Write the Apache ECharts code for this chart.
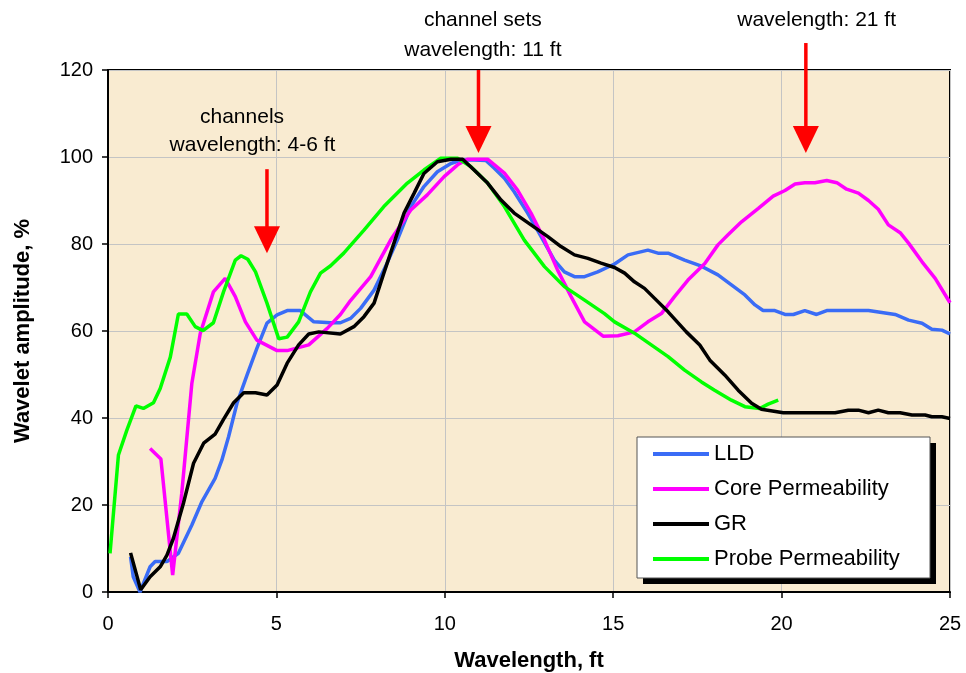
<!DOCTYPE html>
<html><head><meta charset="utf-8">
<script src="https://cdn.jsdelivr.net/npm/echarts@6/dist/echarts.min.js"></script>
<style>html,body{margin:0;padding:0;background:#fff}#c{width:966px;height:673px}</style>
</head><body><div id="c"></div>
<script>
// ---- data ----
const lldX = [0.67,0.75,0.95,1.25,1.4,1.75,2.09,2.49,2.79,3.18,3.38,3.58,3.83,4.13,4.42,4.72,5.02,5.32,5.71,6.11,6.61,6.9,7.2,7.5,7.9,8.24,8.59,8.99,9.38,9.78,10.18,10.48,10.87,11.22,11.47,11.77,12.06,12.46,12.86,13.25,13.55,13.85,14.15,14.54,15.04,15.44,16.03,16.33,16.63,17.12,17.62,18.11,18.51,18.91,19.21,19.45,19.8,20.1,20.35,20.69,21.04,21.34,22.58,23.37,23.77,24.17,24.46,24.76,25];
const lldY = [8.1,3.5,0,5.8,7,7,8.9,15.4,20.8,26.1,30.3,35.7,43.4,49.9,56,61.8,63.7,64.7,64.7,62.1,61.9,61.9,62.9,65.2,69.4,74.8,80.9,88.6,93.2,96.6,98.5,99.3,99.3,99.2,97.4,95.1,92,87.1,81.7,76.3,73.6,72.5,72.5,73.6,75.4,77.5,78.6,77.9,77.9,76.3,74.9,72.9,70.6,68.3,66,64.7,64.7,63.8,63.8,64.7,63.8,64.7,64.7,63.8,62.5,61.8,60.4,60.2,59.3];

const coreX = [1.25,1.57,1.92,2.19,2.49,2.74,3.13,3.48,3.78,4.08,4.42,5.02,5.32,5.96,6.51,6.9,7.2,7.8,8.39,8.99,9.48,9.98,10.38,10.67,11.27,11.77,12.16,12.56,12.96,13.35,13.75,14.15,14.7,15.14,15.63,16.03,16.43,16.82,17.22,17.72,18.11,18.41,18.81,19.31,19.75,20.1,20.4,20.69,20.99,21.34,21.64,21.93,22.28,22.58,22.87,23.17,23.52,23.77,24.17,24.56,25];
const coreY = [33,30.6,3.9,22.7,48,59.5,69,72.1,67.9,62.1,57.9,55.5,55.5,56.8,60.6,63.8,67,72.5,80.9,87.8,91.3,95.5,98.2,99.5,99.5,96.3,92.4,87.1,80.9,74,67.9,62.1,58.8,58.9,59.8,62.1,64,67.9,71.7,75.5,79.8,82.1,85.1,88.2,91,92.3,93.8,94.1,94.1,94.6,94.1,92.6,91.7,90,88,84.4,82.6,80.2,75.9,72.1,66.5];

const grX = [0.67,0.97,1.25,1.55,1.75,1.94,2.24,2.54,2.84,3.18,3.43,3.73,4.03,4.38,4.72,5.02,5.32,5.66,5.96,6.26,6.9,7.3,7.6,7.9,8.19,8.49,8.79,9.09,9.38,9.78,10.18,10.53,10.87,11.27,11.67,12.06,12.56,13.06,13.45,13.85,14.25,14.64,15.04,15.34,15.63,15.93,16.23,16.63,17.17,17.57,17.87,18.31,18.71,19.11,19.4,20.05,21.59,21.98,22.28,22.58,22.87,23.17,23.52,23.87,24.26,24.46,24.76,25];
const grY = [9,0.5,3.5,5.8,8.5,12.3,20.4,29.6,34.2,36.3,39.7,43.5,45.8,45.8,45.3,47.6,52.6,56.8,59.3,59.8,59.3,61,63.3,66.4,73.3,80.2,87.1,91.7,96.2,98.9,99.5,99.5,97,94,90.1,87.1,84.4,81.7,79.4,77.5,76.7,75.6,74.6,73.3,71.3,69.8,67.5,64.4,59.8,56.8,53.3,49.9,46.4,43.4,42,41.2,41.2,41.8,41.8,41.2,41.8,41.2,41.2,40.7,40.7,40.3,40.3,39.9];

const probeX = [0.06,0.31,0.56,0.83,1.05,1.35,1.55,1.85,2.09,2.34,2.59,2.82,3.13,3.43,3.78,3.95,4.15,4.38,4.72,5.07,5.32,5.66,6.01,6.31,6.61,7.0,7.6,8.19,8.89,9.38,9.88,10.38,10.77,11.27,11.77,12.36,12.96,13.55,14.15,14.74,15.04,15.63,16.13,16.63,17.12,17.62,18.01,18.51,18.91,19.35,19.6,19.9];
const probeY = [8.9,31.5,37.2,42.8,42.2,43.5,46.8,54,63.9,63.9,61,60.1,61.9,69,76.3,77.3,76.5,73.6,66.4,58.2,58.6,62.1,69,73.3,75,77.9,83.2,88.6,94,97,99.7,99.7,97.8,94,88.6,80.9,74.8,70.2,67.1,64,62.1,59.5,56.8,54.1,51,48.3,46.4,44.1,42.6,42.2,43.2,44.1];

const seriesNames = ['LLD', 'Core Permeability', 'GR', 'Probe Permeability'];
const seriesColors = ['#3a6cf6', '#ff00ff', '#000000', '#00ff00'];

// annotations (data coordinates)
const arrowX   = [4.72, 11, 20.72];
const arrowTop = [97.2, 120, 126.2];
const arrowTip = [77.9, 100.9, 100.9];
const noteText = ['channels', 'wavelength: 4-6 ft', 'channel sets', 'wavelength: 11 ft', 'wavelength: 21 ft'];
const noteX    = [3.98, 4.29, 11.13, 11.13, 21.04];
const noteY    = [109.2, 102.8, 131.5, 124.6, 131.5];

// ---- chart ----
const FONT = '"Liberation Sans", Arial, sans-serif';
const chart = echarts.init(document.getElementById('c'), null, {renderer: 'canvas'});
const pairs = (xs, ys) => xs.map((x, i) => [x, ys[i]]);
const allData = [pairs(lldX, lldY), pairs(coreX, coreY), pairs(grX, grY), pairs(probeX, probeY)];

const axisCommon = {
  type: 'value',
  nameLocation: 'middle',
  nameTextStyle: {fontFamily: FONT, fontSize: 22, fontWeight: 'bold', color: '#000'},
  axisLine: {show: true, lineStyle: {color: '#000', width: 2}},
  axisTick: {show: true, length: 6, lineStyle: {color: '#000', width: 1.5}},
  splitLine: {show: true, lineStyle: {color: '#c4c4c4', width: 1}},
  axisLabel: {fontFamily: FONT, fontSize: 20, color: '#000'}
};

chart.setOption({
  animation: false,
  backgroundColor: '#ffffff',
  grid: {left: 108, top: 70, right: 16, bottom: 81, show: true, containLabel: false,
         outerBoundsMode: 'none',
         backgroundColor: '#f9ebd1', borderColor: '#000', borderWidth: 2},
  xAxis: Object.assign({}, axisCommon, {
    min: 0, max: 25, interval: 5, name: 'Wavelength, ft', nameGap: 58,
    axisLabel: Object.assign({}, axisCommon.axisLabel, {margin: 22})
  }),
  yAxis: Object.assign({}, axisCommon, {
    min: 0, max: 120, interval: 20, name: 'Wavelet amplitude, %', nameGap: 74,
    axisLabel: Object.assign({}, axisCommon.axisLabel, {margin: 15})
  }),
  legend: {
    orient: 'vertical', left: 653, top: 443, padding: 0, z: 10,
    icon: 'rect', itemWidth: 56, itemHeight: 4, itemGap: 13,
    textStyle: {fontFamily: FONT, fontSize: 22, lineHeight: 22, color: '#000'},
    data: seriesNames
  },
  series: seriesNames.map((n, i) => ({
    name: n, type: 'line', data: allData[i], showSymbol: false, symbol: 'none',
    color: seriesColors[i],
    lineStyle: {color: seriesColors[i], width: 3.5}, z: 2 + (i === 2 ? 1 : 0)
  }))
});

const px = (x, y) => chart.convertToPixel({xAxisIndex: 0, yAxisIndex: 0}, [x, y]);
const graphics = [
  {type: 'rect', z: 8, shape: {x: 643, y: 443, width: 293, height: 141}, style: {fill: '#000'}},
  {type: 'rect', z: 9, shape: {x: 637, y: 437, width: 293, height: 141}, style: {fill: '#fff', stroke: '#555', lineWidth: 1}}
];
arrowX.forEach((x, i) => {
  const top = px(x, arrowTop[i]);
  const tip = px(x, arrowTip[i]);
  const headLen = 27, half = 13;
  graphics.push({type: 'line', z: 10, shape: {x1: top[0], y1: top[1], x2: tip[0], y2: tip[1] - headLen + 2},
                 style: {stroke: '#ff0000', lineWidth: 3.5}});
  graphics.push({type: 'polygon', z: 10, shape: {points: [[tip[0] - half, tip[1] - headLen], [tip[0] + half, tip[1] - headLen], [tip[0], tip[1]]]},
                 style: {fill: '#ff0000'}});
});
noteText.forEach((t, i) => {
  const p = px(noteX[i], noteY[i]);
  graphics.push({type: 'text', z: 10, x: p[0], y: p[1],
                 style: {text: t, fill: '#000', font: '21px ' + FONT, align: 'center', verticalAlign: 'middle'}});
});
chart.setOption({graphic: graphics});
</script>
</body></html>
